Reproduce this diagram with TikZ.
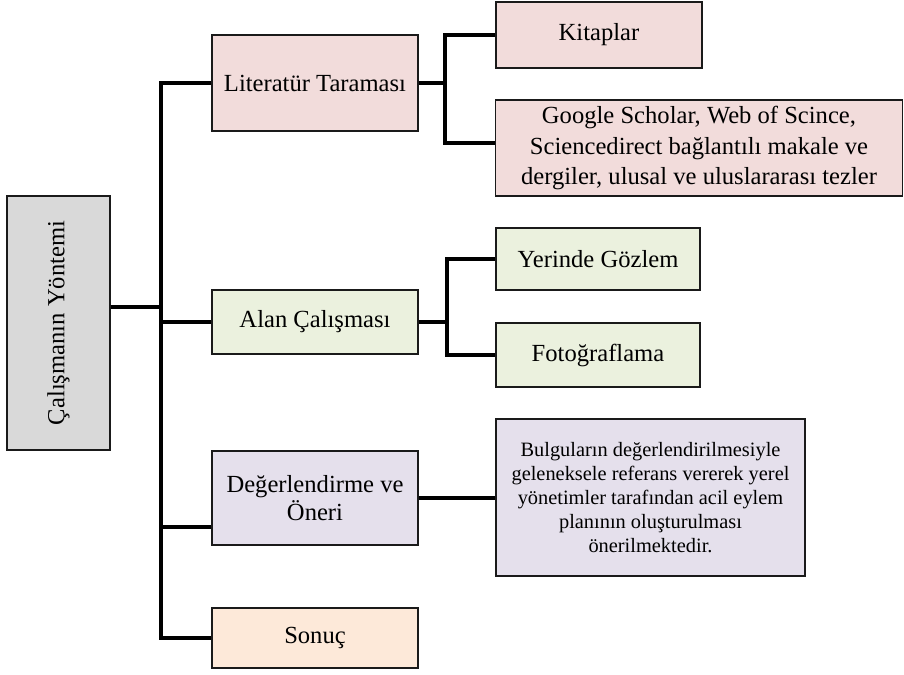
\documentclass[tikz,border=0pt]{standalone}
\usepackage{fontspec}
\setmainfont{Liberation Serif}
\usepackage{tikz}
\usetikzlibrary{positioning,calc}
\usepackage{xcolor}
\definecolor{boxline}{HTML}{1A1A1A}
\definecolor{rootFill}{HTML}{D9D9D9}
\definecolor{litFill}{HTML}{F2DCDB}
\definecolor{alanFill}{HTML}{EBF1DE}
\definecolor{degFill}{HTML}{E5E0EC}
\definecolor{sonFill}{HTML}{FDE9D9}

\begin{document}
\begin{tikzpicture}[
      box/.style={draw=boxline,line width=1.2pt,align=center,inner sep=2pt,
                  font=\fontsize{17.5}{21}\selectfont},
      rootbox/.style={box,fill=rootFill,minimum width=2.575cm,minimum height=6.35cm},
      litbox/.style={box,fill=litFill,minimum width=5.15cm},
      alanbox/.style={box,fill=alanFill,minimum width=5.1cm},
      degbox/.style={box,fill=degFill,minimum width=5.15cm},
      sonbox/.style={box,fill=sonFill,minimum width=5.15cm,minimum height=1.5cm},
      conn/.style={line width=2.6pt,black,line join=miter}]
    \useasboundingbox (0,0) rectangle (22.6,-16.85);
    % main column
    \node[rootbox] (root) at (1.4625,-8.075) {};
    \node[rotate=90,font=\fontsize{17.5}{21}\selectfont] (rootlbl) at (root.center) {Çalışmanın Yöntemi};
    \node[litbox,minimum height=2.4cm] (lit) at (7.875,-2.075) {Literatür Taraması};
    \node[alanbox,minimum width=5.15cm,minimum height=1.6cm] (alan) at (7.875,-8.05) {Alan Çalışması};
    \node[degbox,minimum height=2.35cm,font=\fontsize{17.5}{19.5}\selectfont] (deg) at (7.875,-12.45) {Değerlendirme ve\\Öneri};
    \node[sonbox] (son) at (7.875,-15.95) {Sonuç};
    % sub items
    \node[litbox,minimum height=1.65cm] (kit) at (14.975,-0.875) {Kitaplar};
    \node[litbox,minimum width=10.175cm,minimum height=2.4cm,font=\fontsize{17.5}{22}\selectfont] (goo) at (17.475,-3.7)
      {Google Scholar, Web of Scince,\\Sciencedirect bağlantılı makale ve\\dergiler, ulusal ve uluslararası tezler};
    \node[alanbox,minimum height=1.55cm] (yer) at (14.95,-6.475) {Yerinde Gözlem};
    \node[alanbox,minimum height=1.6cm] (foto) at (14.95,-8.875) {Fotoğraflama};
    \node[degbox,minimum width=7.725cm,minimum height=3.925cm,
          font=\fontsize{14.5}{17}\selectfont] (bul) at (16.2625,-12.4375)
      {Bulguların değerlendirilmesiyle\\geleneksele referans vererek yerel\\yönetimler tarafından acil eylem\\planının oluşturulması\\önerilmektedir.};
    % connectors
    \coordinate (tr) at (4.025,0);
    \coordinate (lb) at (11.125,0);
    \coordinate (ab) at (11.175,0);
    \coordinate (rA) at ($(root.east)+(0,0.4)$);
    \coordinate (dA) at ($(deg.west)+(0,-0.725)$);
    \coordinate (gA) at ($(goo.west)+(0,0.125)$);
    \draw[conn] (lit.west) -- (lit.west -| tr) -- (son.west -| tr) -- (son.west);
    \draw[conn] (rA) -- (rA -| tr);
    \draw[conn] (alan.west) -- (alan.west -| tr);
    \draw[conn] (dA) -- (dA -| tr);
    \draw[conn] (kit.west) -- (kit.west -| lb) -- (gA -| lb) -- (gA);
    \draw[conn] (lit.east) -- (lit.east -| lb);
    \draw[conn] (yer.west) -- (yer.west -| ab) -- (foto.west -| ab) -- (foto.west);
    \draw[conn] (alan.east) -- (alan.east -| ab);
    \draw[conn] (deg.east) -- (deg.east -| bul.west);
  \end{tikzpicture}
\end{document}
